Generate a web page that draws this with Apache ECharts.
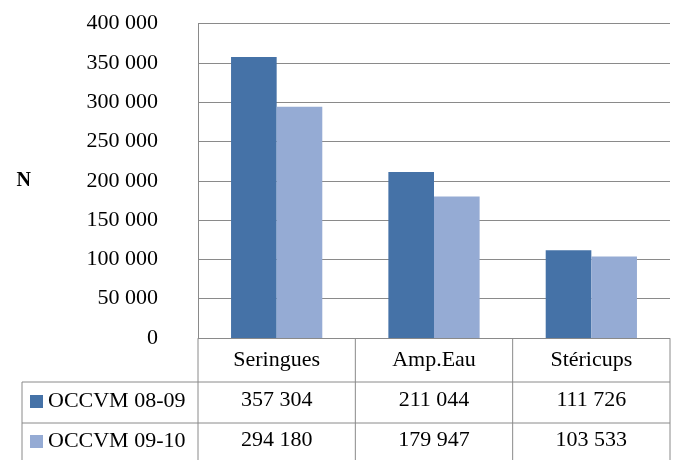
<!DOCTYPE html>
<html><head><meta charset="utf-8">
<script src="https://cdn.jsdelivr.net/npm/echarts@6/dist/echarts.min.js"></script>
<style>html,body{margin:0;padding:0;background:#fff}#c{width:680px;height:460px}</style>
</head><body><div id="c"></div>
<script>
var categories = ['Seringues', 'Amp.Eau', 'Stéricups'];
var seriesNames = ['OCCVM 08-09', 'OCCVM 09-10'];
var values0809 = [357304, 211044, 111726];
var values0910 = [294180, 179947, 103533];
var yTicks = [0, 50000, 100000, 150000, 200000, 250000, 300000, 350000, 400000];

function fmt(v){ return String(v).replace(/\B(?=(\d{3})+(?!\d))/g, ' '); }

var FONT = 'Liberation Serif';
var FS = 22;
var GL = 198, GR = 10, GT = 23.5, GB = 121;
var LINE = '#8a8a8a';

var chart = echarts.init(document.getElementById('c'), null, {renderer: 'canvas'});
var option = {
  animation: false,
  textStyle: {fontFamily: FONT},
  grid: {left: GL, right: GR, top: GT, bottom: GB, containLabel: false},
  legend: {
    orient: 'vertical', left: 30, top: 390.5, padding: 0, itemWidth: 13, itemHeight: 13, itemGap: 18,
    icon: 'rect', selectedMode: false,
    textStyle: {fontFamily: FONT, fontSize: FS, color: '#000', lineHeight: 22},
    data: seriesNames
  },
  xAxis: {
    type: 'category', data: categories,
    axisLine: {show: true, lineStyle: {color: LINE, width: 1}},
    axisTick: {show: false},
    axisLabel: {
      margin: 2, interval: 0, color: '#000', fontFamily: FONT, fontSize: FS, lineHeight: 40,
      formatter: function(v, i){ return v + '\n' + fmt(values0809[i]) + '\n' + fmt(values0910[i]); }
    }
  },
  yAxis: {
    type: 'value', min: yTicks[0], max: yTicks[yTicks.length-1], interval: yTicks[1]-yTicks[0],
    name: 'N', nameLocation: 'middle', nameRotate: 0, nameGap: 167,
    nameTextStyle: {fontFamily: FONT, fontSize: 20, fontWeight: 'bold', color: '#000'},
    axisLine: {show: true, lineStyle: {color: LINE, width: 1}},
    axisTick: {show: false},
    splitLine: {show: true, lineStyle: {color: LINE, width: 1}},
    axisLabel: {margin: 40, color: '#000', fontFamily: FONT, fontSize: FS, formatter: function(v){ return fmt(v); }}
  },
  series: [
    {name: seriesNames[0], type: 'bar', data: values0809, barGap: '0%', barCategoryGap: '42%', itemStyle: {color: '#4572A7'}},
    {name: seriesNames[1], type: 'bar', data: values0910, barGap: '0%', barCategoryGap: '42%', itemStyle: {color: '#95ABD4'}}
  ]
};
chart.setOption(option);

// data table grid lines
var W = 680, H = 460;
var plotRight = W - GR, axisY = H - GB;
var bw = (plotRight - GL) / categories.length;
var row1 = axisY + 43, row2 = row1 + 41, bottom = H + 5, tableLeft = 22;
var g = [];
function ln(x1,y1,x2,y2){ g.push({type:'line', shape:{x1:x1,y1:y1,x2:x2,y2:y2}, style:{stroke:LINE, lineWidth:1}, silent:true}); }
ln(tableLeft, row1, plotRight, row1);
ln(tableLeft, row2, plotRight, row2);
ln(tableLeft, row1, tableLeft, bottom);
ln(GL, axisY, GL, bottom);
for (var i = 1; i <= categories.length; i++) { ln(GL + i*bw, axisY, GL + i*bw, bottom); }
chart.setOption({graphic: g});
</script></body></html>
